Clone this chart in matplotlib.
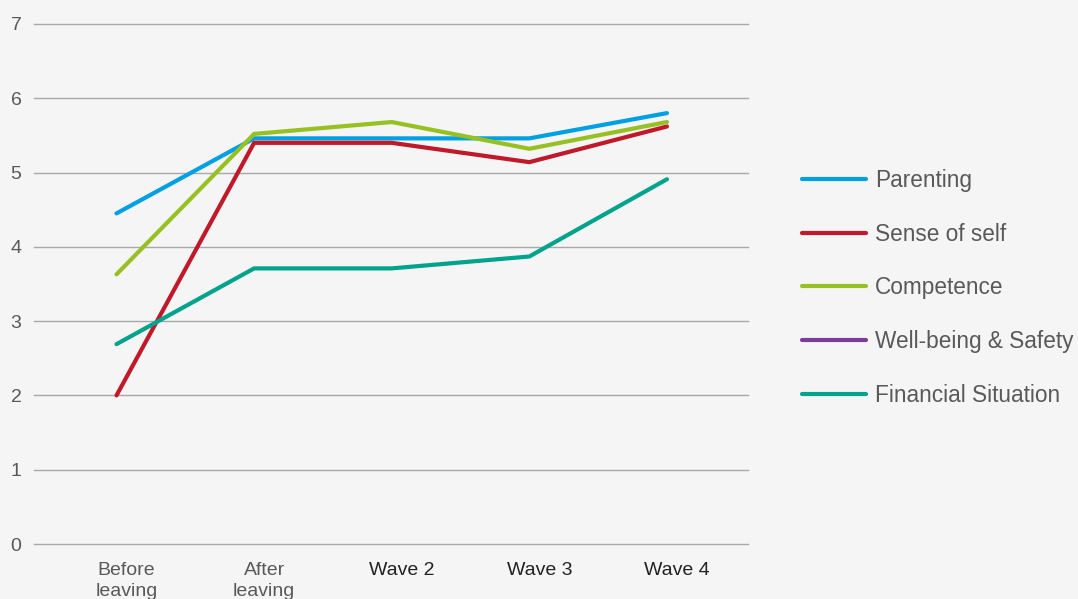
import numpy as np
import matplotlib
matplotlib.use("Agg")
from matplotlib import pyplot as plt
from matplotlib.transforms import ScaledTranslation

plt.rcParams['font.family'] = ['Liberation Sans', 'DejaVu Sans']

categories = ["Before\nleaving", "After\nleaving", "Wave 2", "Wave 3", "Wave 4"]
parenting = [4.45, 5.46, 5.46, 5.46, 5.80]
sense_of_self = [2.00, 5.40, 5.40, 5.14, 5.62]
competence = [3.63, 5.52, 5.68, 5.32, 5.68]
well_being = [np.nan] * 5   # legend only, no values shown
financial = [2.69, 3.71, 3.71, 3.87, 4.91]

series = [
    ("Parenting", parenting, "#00a0e3"),
    ("Sense of self", sense_of_self, "#c0192a"),
    ("Competence", competence, "#97c123"),
    ("Well-being & Safety", well_being, "#7d3c98"),
    ("Financial Situation", financial, "#00a38b"),
]

bg = "#f5f5f5"
fig = plt.figure(figsize=(10.78, 5.99), dpi=100, facecolor=bg)
ax = fig.add_axes([0.0315, 0.0918, 0.6625, 0.8682], facecolor=bg)

x = np.arange(len(categories))
for name, vals, col in series:
    ax.plot(x, vals, color=col, lw=3.0, solid_capstyle="round",
            solid_joinstyle="miter", label=name)

ax.set_ylim(0, 7)
ax.set_xlim(-0.6, 4.59)
ax.set_yticks(range(8))
ax.yaxis.grid(True, color="#a8a8a8", lw=1.0)
for gl in ax.yaxis.get_gridlines():
    gl.set_clip_on(False)
ax.set_axisbelow(True)
for s in ax.spines.values():
    s.set_visible(False)
ax.tick_params(axis="both", length=0, labelsize=14, labelcolor="#595959")
ax.tick_params(axis="y", pad=9)
ax.tick_params(axis="x", pad=13)

ax.set_xticks(x)
ax.set_xticklabels(categories, linespacing=1.3)
off = ScaledTranslation(10 / 100, 0, fig.dpi_scale_trans)
for i, lab in enumerate(ax.get_xticklabels()):
    lab.set_transform(lab.get_transform() + off)
    if i >= 2:
        lab.set_color("#222222")

leg = ax.legend(loc="upper left", bbox_to_anchor=(1.063, 0.738), frameon=False,
                fontsize=16.3, handlelength=2.8, handletextpad=0.4,
                labelspacing=1.35, labelcolor="#595959", borderaxespad=0)
for h in leg.get_lines():
    h.set_linewidth(3.0)
    h.set_solid_capstyle("round")

fig.savefig("out.png", dpi=100, facecolor=bg)
